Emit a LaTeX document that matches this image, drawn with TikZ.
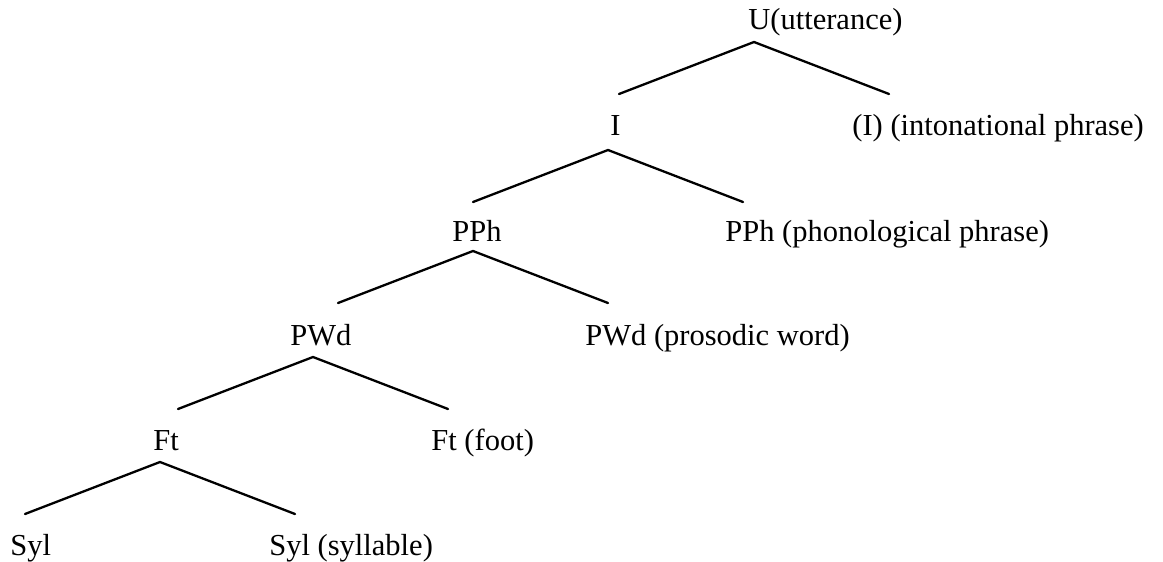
\documentclass[tikz,border=0pt]{standalone}
\usepackage{fontspec}
\setmainfont{Liberation Serif}
\usetikzlibrary{calc}
\tikzset{
  label/.style={anchor=base west, inner sep=0pt, font=\fontsize{15.25}{18}\selectfont},
  branch/.style={line width=1.15pt, line cap=round}
}
% two branches hanging from one apex
\newcommand{\fork}[3]{
  \coordinate (#1-top) at (#2,#3);
  \coordinate (#1-left) at ($(#1-top)+(-135,52)$);
  \coordinate (#1-right) at ($(#1-top)+(135,52)$);
  \draw[branch] (#1-left) -- (#1-top) -- (#1-right);
}
\begin{document}
\begin{tikzpicture}[x=0.5pt,y=-0.5pt]
\useasboundingbox (0,0) rectangle (1163,562);
% labels
\node[label] (u) at (748,30) {U(utterance)};
\node[label] (i) at (610,135) {I};
\node[label] (ii) at (852,135) {(I) (intonational phrase)};
\node[label] (pph) at (452,241) {PPh};
\node[label] (pph2) at (725,241) {PPh (phonological phrase)};
\node[label] (pwd) at (290,345) {PWd};
\node[label] (pwd2) at (585,345) {PWd (prosodic word)};
\node[label] (ft) at (153,450) {Ft};
\node[label] (ft2) at (431,450) {Ft (foot)};
\node[label] (syl) at (10,555) {Syl};
\node[label] (syl2) at (269,555) {Syl (syllable)};
% branches
\fork{u}{754}{42}
\fork{i}{608}{150}
\fork{pph}{473}{251}
\fork{pwd}{313}{357}
\fork{ft}{160}{462}
\end{tikzpicture}
\end{document}
